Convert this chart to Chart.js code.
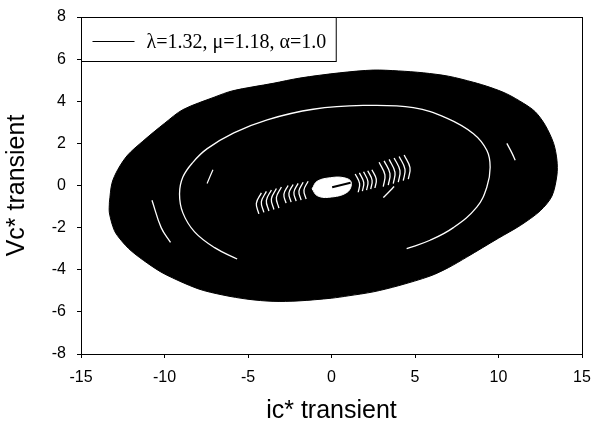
<!DOCTYPE html>
<html>
<head>
<meta charset="utf-8">
<script src="https://cdn.jsdelivr.net/npm/chart.js@4.4.1/dist/chart.umd.min.js"></script>
<style>
  html, body { margin: 0; padding: 0; background: #fff; }
  #c { display: block; }
</style>
</head>
<body>
<canvas id="c" width="593" height="428"></canvas>
<script>
// ---------- data ----------
const legendText = 'λ=1.32, μ=1.18, α=1.0';
const xTitle = 'ic* transient';
const yTitle = 'Vc* transient';
const xRange = [-15, 15];
const yRange = [-8, 8];

// outer envelope of the dense trajectory (clockwise, closed)
const outerX = [-13.3, -13.15, -12.8, -12.2, -11.3, -10.0, -8.9, -7.0, -5.9, -3.5, -1.9, 0.5, 2.5, 4.0, 5.5, 7.0, 8.5, 9.5, 10.5, 11.5, 12.2, 12.8, 13.3, 13.5, 13.5, 13.2, 12.5, 11.3, 10.0, 8.1, 7.0, 5.9, 4.0, 2.5, 1.0, 0.0, -2.0, -3.5, -5.0, -6.5, -8.0, -10.0, -11.0, -12.0, -12.6, -13.0, -13.3, -13.3];
const outerY = [-0.8, 0.1, 0.75, 1.45, 2.1, 2.95, 3.6, 4.2, 4.5, 4.85, 5.1, 5.35, 5.48, 5.44, 5.35, 5.19, 4.9, 4.66, 4.35, 3.9, 3.5, 2.86, 2.0, 1.2, 0.5, -0.5, -1.2, -1.9, -2.5, -3.4, -3.9, -4.3, -4.76, -5.05, -5.24, -5.35, -5.48, -5.5, -5.4, -5.2, -4.9, -4.2, -3.7, -3.1, -2.6, -2.14, -1.3, -0.8];

// main white gap ring
const ringX = [-5.65, -7.0, -8.2, -8.9, -9.1, -8.9, -8.3, -7.44, -5.85, -3.85, -1.1, 1.9, 4.9, 6.9, 8.5, 9.3, 9.5, 9.3, 8.7, 7.3, 5.9, 4.5];
const ringY = [-3.49, -2.95, -2.2, -1.3, -0.4, 0.4, 1.1, 1.75, 2.5, 3.12, 3.62, 3.8, 3.7, 3.2, 2.46, 1.67, 0.87, -0.08, -1.03, -2.0, -2.6, -3.0];

// short outer white arcs
const leftArcX = [-10.75, -10.2, -9.64];
const leftArcY = [-0.7, -2.0, -2.7];
const rightArcX = [10.5, 10.8, 11.0];
const rightArcY = [2.0, 1.55, 1.2];
const leftDashX = [-7.1, -7.45];
const leftDashY = [0.75, 0.1];

// short white streaks around the centre: [x1,y1, x2,y2, x3,y3]
const streaks = [
  [-4.2, -0.35, -4.5, -0.85, -4.35, -1.35],
  [-3.9, -0.28, -4.2, -0.78, -4.05, -1.28],
  [-3.6, -0.21, -3.9, -0.71, -3.75, -1.21],
  [-3.3, -0.14, -3.6, -0.64, -3.45, -1.14],
  [-3.0, -0.07, -3.3, -0.57, -3.15, -1.07],
  [-2.6, 0.0, -2.85, -0.42, -2.72, -0.84],
  [-2.3, 0.05, -2.55, -0.37, -2.42, -0.79],
  [-2.0, 0.1, -2.25, -0.32, -2.12, -0.74],
  [-1.7, 0.15, -1.95, -0.27, -1.82, -0.69],
  [-1.4, 0.2, -1.65, -0.22, -1.52, -0.64],
  [1.42, 0.55, 1.68, 0.1, 1.6, -0.32],
  [1.67, 0.6, 1.93, 0.15, 1.85, -0.27],
  [1.92, 0.65, 2.18, 0.2, 2.1, -0.22],
  [2.17, 0.7, 2.43, 0.25, 2.35, -0.17],
  [2.42, 0.75, 2.68, 0.3, 2.6, -0.12],
  [2.85, 1.1, 3.2, 0.5, 3.1, -0.05],
  [3.15, 1.17, 3.5, 0.57, 3.4, 0.02],
  [3.45, 1.24, 3.8, 0.64, 3.7, 0.09],
  [3.75, 1.31, 4.1, 0.71, 4.0, 0.16],
  [4.05, 1.38, 4.4, 0.78, 4.3, 0.23],
  [4.35, 1.45, 4.7, 0.85, 4.6, 0.3],
  [3.75, -0.05, 3.45, -0.3, 3.1, -0.57]
];

// empty hole at the centre and the trajectory start inside it
const holeX = [-1.16, -0.86, -0.06, 0.74, 1.18, 0.94, -0.16, -0.86, -1.16];
const holeY = [-0.16, 0.2, 0.37, 0.37, 0.16, -0.32, -0.56, -0.48, -0.16];
const startX = [0.04, 1.14];
const startY = [-0.08, 0.13];

// ---------- build datasets ----------
const pts = (xs, ys) => xs.map((x, i) => ({ x, y: ys[i] }));
const pairs = a => { const r = []; for (let i = 0; i < a.length; i += 2) r.push({ x: a[i], y: a[i + 1] }); return r; };

const whiteLine = (data, w, order) => ({
  data, borderColor: '#fff', backgroundColor: '#fff', borderWidth: w,
  pointRadius: 0, fill: false, tension: 0.4, order
});

const datasets = [
  {
    label: legendText, data: pts(outerX, outerY),
    borderColor: '#000', backgroundColor: '#000', borderWidth: 1,
    pointRadius: 0, fill: 'shape', tension: 0.3, order: 10
  },
  whiteLine(pts(ringX, ringY), 1.3, 5),
  whiteLine(pts(leftArcX, leftArcY), 1.3, 5),
  whiteLine(pts(rightArcX, rightArcY), 1.3, 5),
  whiteLine(pts(leftDashX, leftDashY), 1.2, 5),
  ...streaks.map(s => whiteLine(pairs(s), 1.3, 4)),
  {
    data: pts(holeX, holeY), borderColor: '#fff', backgroundColor: '#fff', borderWidth: 1,
    pointRadius: 0, fill: 'shape', tension: 0.4, order: 2
  },
  {
    data: pts(startX, startY), borderColor: '#000', borderWidth: 2,
    pointRadius: 0, fill: false, tension: 0, order: 0
  }
];

const sans = "'Liberation Sans', Arial, Helvetica, sans-serif";
const serif = "'Liberation Serif', 'Times New Roman', serif";

// legend box drawn inside the plot area, top-left
const insideLegend = {
  id: 'insideLegend',
  afterDraw(chart) {
    const ca = chart.chartArea;
    const ctx = chart.ctx;
    ctx.save();
    ctx.font = '20px ' + serif;
    const tw = ctx.measureText(legendText).width;
    const x0 = Math.round(ca.left) + 0.5, y0 = Math.round(ca.top) + 0.5;
    const lineX = x0 + 11, lineLen = 42, gap = 12;
    const textX = lineX + lineLen + gap;
    const w = textX + tw + 10 - x0, h = 44;
    ctx.fillStyle = '#fff';
    ctx.fillRect(x0, y0, w, h);
    ctx.strokeStyle = '#000';
    ctx.lineWidth = 1;
    ctx.strokeRect(x0, y0, w, h);
    const cy = y0 + 24;
    ctx.beginPath();
    ctx.moveTo(lineX, cy);
    ctx.lineTo(lineX + lineLen, cy);
    ctx.stroke();
    ctx.fillStyle = '#000';
    ctx.textBaseline = 'middle';
    ctx.textAlign = 'left';
    ctx.fillText(legendText, textX, cy + 1);
    ctx.restore();
  }
};

const noPad = s => { s.paddingLeft = 0; s.paddingRight = 0; s.paddingTop = 0; s.paddingBottom = 0; };

new Chart(document.getElementById('c'), {
  type: 'line',
  data: { datasets },
  plugins: [insideLegend],
  options: {
    responsive: false,
    animation: false,
    events: [],
    layout: { padding: { top: 17, right: 11, left: 0, bottom: 0 } },
    plugins: {
      tooltip: { enabled: false },
      legend: { display: false }
    },
    scales: {
      x: {
        type: 'linear', position: 'bottom', min: xRange[0], max: xRange[1],
        ticks: { stepSize: 5, color: '#000', font: { family: sans, size: 16 }, padding: 10 },
        grid: { drawOnChartArea: false, drawTicks: true, tickLength: 4, color: '#000' },
        border: { display: true, color: '#000', width: 1 },
        title: { display: true, text: xTitle, color: '#000', font: { family: sans, size: 25, lineHeight: 1 }, padding: { top: 0, bottom: 4 } },
        afterFit: s => { s.height = 74; noPad(s); }
      },
      y: {
        type: 'linear', position: 'left', min: yRange[0], max: yRange[1],
        ticks: { stepSize: 2, color: '#000', font: { family: sans, size: 16 }, padding: 11 },
        grid: { drawOnChartArea: false, drawTicks: true, tickLength: 4, color: '#000' },
        border: { display: true, color: '#000', width: 1 },
        title: { display: true, text: yTitle, color: '#000', font: { family: sans, size: 25, lineHeight: 1 }, padding: { top: 5, bottom: 0 } },
        afterFit: s => { s.width = 81; noPad(s); }
      },
      x2: {
        type: 'linear', position: 'top', min: xRange[0], max: xRange[1],
        ticks: { display: false },
        grid: { display: false, drawOnChartArea: false, drawTicks: false },
        border: { display: true, color: '#000', width: 1 },
        afterFit: s => { s.height = 0; noPad(s); }
      },
      y2: {
        type: 'linear', position: 'right', min: yRange[0], max: yRange[1],
        ticks: { display: false },
        grid: { display: false, drawOnChartArea: false, drawTicks: false },
        border: { display: true, color: '#000', width: 1 },
        afterFit: s => { s.width = 0; noPad(s); }
      }
    }
  }
});
</script>
</body>
</html>
